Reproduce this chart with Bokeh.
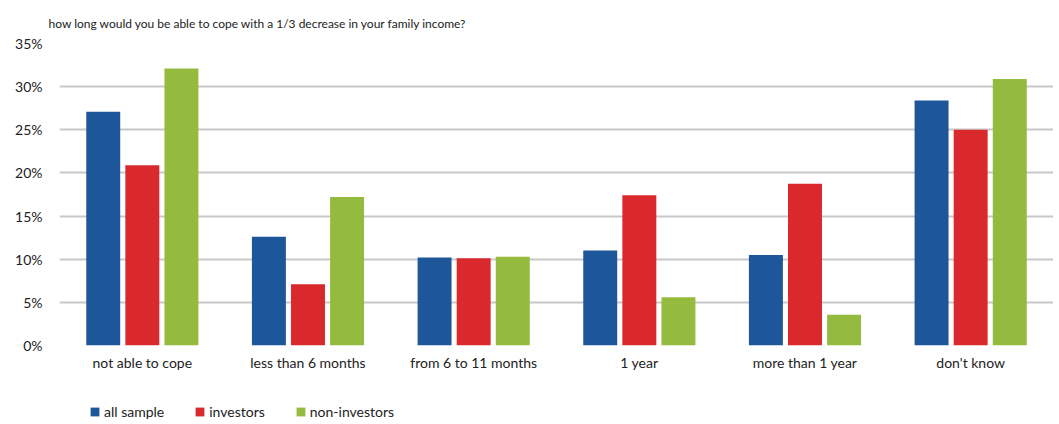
from bokeh.plotting import figure
from bokeh.layouts import column
from bokeh.models import (ColumnDataSource, FactorRange, Range1d, FixedTicker,
                          PrintfTickFormatter, Legend, LegendItem)
from bokeh.transform import dodge
from bokeh.embed import file_html
from bokeh.resources import INLINE

categories = ["not able to cope", "less than 6 months", "from 6 to 11 months",
              "1 year", "more than 1 year", "don't know"]
all_sample = [27.1, 12.6, 10.2, 11.0, 10.5, 28.4]
investors = [20.9, 7.1, 10.1, 17.4, 18.75, 25.0]
non_investors = [32.1, 17.2, 10.3, 5.6, 3.55, 30.9]
series_names = ["all sample", "investors", "non-investors"]
colors = ["#1e5799", "#d9292c", "#94bb3d"]
y_ticks = [0, 5, 10, 15, 20, 25, 30, 35]

FONT = "Lato"

src = ColumnDataSource(dict(cat=categories, a=all_sample, i=investors, n=non_investors))

p = figure(x_range=FactorRange(*categories, range_padding=0),
           y_range=Range1d(0, 35),
           width=1053, height=388, output_backend="svg", toolbar_location=None,
           min_border_left=59, min_border_right=0, min_border_top=43,
           min_border_bottom=43)

p.title.text = "how long would you be able to cope with a 1/3 decrease in your family income?"
p.title.text_font = FONT
p.title.text_font_size = "12px"
p.title.text_font_style = "normal"
p.title.text_color = "#222222"
p.title.align = "left"
p.title.offset = -11
p.title.standoff = 26

for col, off, c in zip(["a", "i", "n"], [-0.236, 0.0, 0.236], colors):
    p.vbar(x=dodge("cat", off, range=p.x_range), top=col, width=0.205,
           source=src, fill_color=c, line_color=None)

p.outline_line_color = None
p.xgrid.grid_line_color = None
p.ygrid.grid_line_color = "#c8c8c8"
p.ygrid.grid_line_width = 2
p.yaxis.ticker = FixedTicker(ticks=y_ticks)
p.yaxis.formatter = PrintfTickFormatter(format="%d%%")
for ax in (p.xaxis, p.yaxis):
    ax.axis_line_color = None
    ax.major_tick_line_color = None
    ax.minor_tick_line_color = None
    ax.major_label_text_font = FONT
    ax.major_label_text_font_size = "14px"
    ax.major_label_text_color = "#222222"
p.yaxis.major_label_standoff = 11
p.xaxis.major_label_standoff = 2

# legend strip: same series drawn on a categorical axis kept out of view,
# so only their legend swatches show
lg = figure(width=1053, height=36, output_backend="svg", toolbar_location=None,
            x_range=FactorRange("legend"), y_range=(0, 1), min_border=0)
lg.axis.visible = False
lg.grid.visible = False
lg.outline_line_color = None
swatches = [lg.vbar(x="cat", top=col, width=0.1, source=src,
                    fill_color=c, line_color=None)
            for col, c in zip(["a", "i", "n"], colors)]
legend = Legend(items=[LegendItem(label=n, renderers=[r]) for n, r in zip(series_names, swatches)],
                orientation="horizontal", location=(30, 4),
                glyph_width=11, glyph_height=11, label_standoff=4, spacing=30,
                label_text_font=FONT, label_text_font_size="14px",
                label_text_color="#222222", border_line_color=None,
                background_fill_alpha=0, padding=0, margin=0)
lg.add_layout(legend)

layout = column(p, lg, spacing=0)
open("out.html", "w").write(file_html(layout, INLINE))
